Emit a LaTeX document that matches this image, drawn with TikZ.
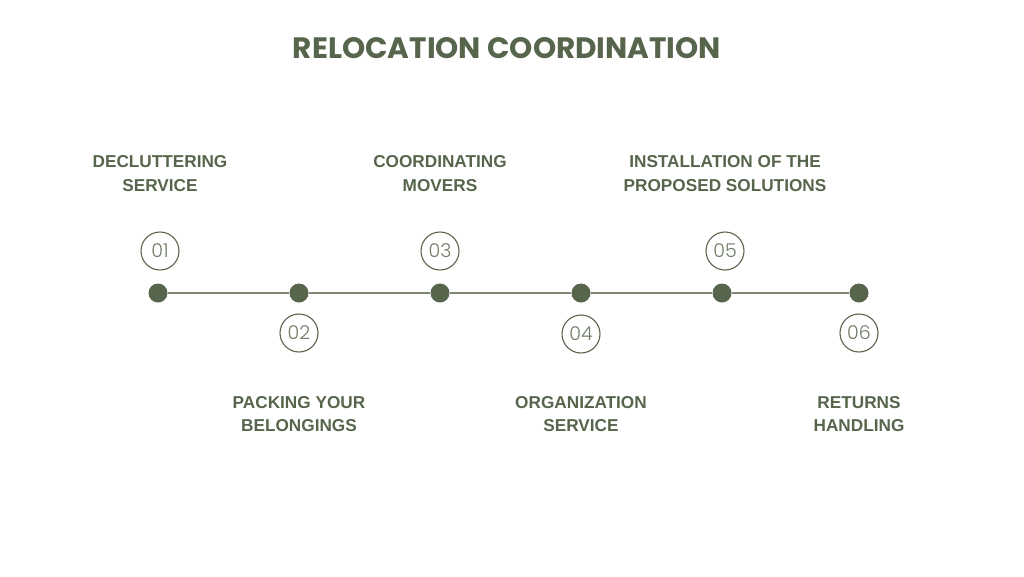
\documentclass[tikz,border=0pt]{standalone}
\usepackage{fontspec}
\setmainfont{Liberation Sans}
\newfontfamily\titlefont{Poppins}[UprightFont=* Bold]
\newfontfamily\numfont{Poppins}[UprightFont=* Light]
\usepackage{tikz}
\usetikzlibrary{positioning}
\definecolor{sage}    {HTML}{56654B}
\definecolor{sageline}{HTML}{7C8872}
\tikzset{
  % --- nodes
  dot/.style   = {circle, fill=sage, inner sep=0pt, minimum size=19pt},
  num/.style   = {circle, draw=sage, line width=1.1pt, inner sep=0pt, minimum size=38pt,
                  text=sage!85, font=\numfont\fontsize{19}{19}\selectfont},
  lbl/.style   = {align=center, text=sage, font=\bfseries\fontsize{17.2}{23.5}\selectfont},
  ttl/.style   = {text=sage, font=\titlefont\fontsize{29.5}{30}\selectfont},
  % --- edges
  e/.style     = {draw=sageline, line width=1.4pt},
}

\begin{document}
\begin{tikzpicture}[x=1pt, y=-1pt]
  \useasboundingbox (0,0) rectangle (1024,576);

  % ------------------------------------------------------------------ title
  \node[ttl] (title) at (507,48) {RELOCATION COORDINATION};

  % ------------------------------------------------------------------ dots
  \node[dot] (d1) at (158,293) {};
  \node[dot] (d2) at (299,293) {};
  \node[dot] (d3) at (440,293) {};
  \node[dot] (d4) at (581,293) {};
  \node[dot] (d5) at (722,293) {};
  \node[dot] (d6) at (859,293) {};

  \draw[e] (d1) -- (d2) -- (d3) -- (d4) -- (d5) -- (d6);

  % ------------------------------------------------------------------ numbers
  \node[num] (n1) at (160,251) {01};
  \node[num] (n2) at (299,333) {02};
  \node[num] (n3) at (440,251) {03};
  \node[num] (n4) at (581,334) {04};
  \node[num] (n5) at (725,251) {05};
  \node[num] (n6) at (859,333) {06};

  % ------------------------------------------------------------------ labels
  \node[lbl] (l1) at (160,173.5) {DECLUTTERING\\SERVICE};
  \node[lbl] (l3) at (440,173.5) {COORDINATING\\MOVERS};
  \node[lbl] (l5) at (725,173.5) {INSTALLATION OF THE\\PROPOSED SOLUTIONS};
  \node[lbl] (l2) at (299,414) {PACKING YOUR\\BELONGINGS};
  \node[lbl] (l4) at (581,414) {ORGANIZATION\\SERVICE};
  \node[lbl] (l6) at (859,414) {RETURNS\\HANDLING};
\end{tikzpicture}
\end{document}
